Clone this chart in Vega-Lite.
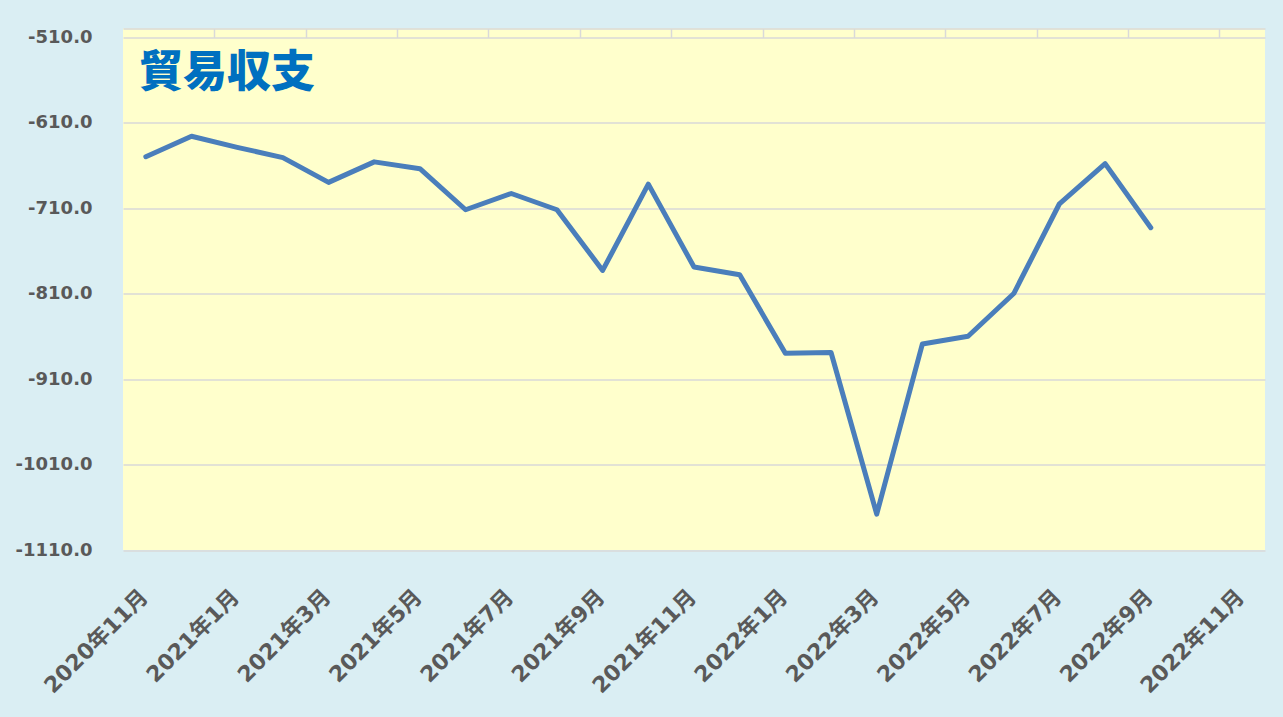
{
  "$schema": "https://vega.github.io/schema/vega-lite/v6.json",
  "autosize": {"type": "none"},
  "width": 1142,
  "height": 521.5,
  "padding": {"left": 123, "top": 28.5, "right": 18, "bottom": 167},
  "background": "#DAEEF3",
  "view": {"fill": "#FFFFCC", "stroke": null},
  "title": {
    "text": "貿易収支",
    "anchor": "start",
    "frame": "group",
    "orient": "top",
    "baseline": "top",
    "dx": 16,
    "dy": 68,
    "offset": 0,
    "font": "Noto Sans CJK JP",
    "fontSize": 44,
    "fontWeight": 900,
    "color": "#0070C0"
  },
  "data": {
    "values": [
      {"month": "2020年11月", "value": -650},
      {"month": "2020年12月", "value": -626},
      {"month": "2021年1月", "value": -639},
      {"month": "2021年2月", "value": -651},
      {"month": "2021年3月", "value": -680},
      {"month": "2021年4月", "value": -656},
      {"month": "2021年5月", "value": -664},
      {"month": "2021年6月", "value": -712},
      {"month": "2021年7月", "value": -693},
      {"month": "2021年8月", "value": -712},
      {"month": "2021年9月", "value": -783},
      {"month": "2021年10月", "value": -682},
      {"month": "2021年11月", "value": -779},
      {"month": "2021年12月", "value": -788},
      {"month": "2022年1月", "value": -880},
      {"month": "2022年2月", "value": -879},
      {"month": "2022年3月", "value": -1068},
      {"month": "2022年4月", "value": -869},
      {"month": "2022年5月", "value": -860},
      {"month": "2022年6月", "value": -810},
      {"month": "2022年7月", "value": -705},
      {"month": "2022年8月", "value": -658},
      {"month": "2022年9月", "value": -733}
    ]
  },
  "encoding": {
    "x": {
      "field": "month",
      "type": "ordinal",
      "sort": null,
      "scale": {
        "type": "point",
        "padding": 0.5,
        "domain": ["2020年11月","2020年12月","2021年1月","2021年2月","2021年3月","2021年4月","2021年5月","2021年6月","2021年7月","2021年8月","2021年9月","2021年10月","2021年11月","2021年12月","2022年1月","2022年2月","2022年3月","2022年4月","2022年5月","2022年6月","2022年7月","2022年8月","2022年9月","2022年10月","2022年11月"]
      }
    },
    "y": {
      "field": "value",
      "type": "quantitative",
      "scale": {"domain": [-1110, -500], "nice": false, "zero": false}
    }
  },
  "layer": [
    {
      "mark": {"type": "line", "color": "#4A7EBB", "strokeWidth": 5, "strokeJoin": "round", "strokeCap": "round"},
      "encoding": {
        "x": {
          "field": "month",
          "type": "ordinal",
          "title": null,
          "axis": {
            "orient": "bottom",
            "values": ["2020年11月","2021年1月","2021年3月","2021年5月","2021年7月","2021年9月","2021年11月","2022年1月","2022年3月","2022年5月","2022年7月","2022年9月","2022年11月"],
            "labelAngle": -45,
            "labelAlign": "right",
            "labelBaseline": "middle",
            "labelPadding": 43,
            "labelOffset": -2,
            "labelFont": "DejaVu Sans, Noto Sans CJK JP",
            "labelFontWeight": "bold",
            "labelFontSize": 22,
            "labelColor": "#595959",
            "labelOverlap": false,
            "labelFlush": false,
            "ticks": false,
            "domain": false,
            "grid": false
          }
        },
        "y": {
          "field": "value",
          "type": "quantitative",
          "title": null,
          "axis": {
            "values": [-1110, -1010, -910, -810, -710, -610, -510],
            "labelExpr": "'-' + format(abs(datum.value), '.1f')",
            "labelFont": "DejaVu Sans",
            "labelFontWeight": "bold",
            "labelFontSize": 18,
            "labelColor": "#595959",
            "labelPadding": 31,
            "ticks": false,
            "domain": false,
            "grid": true,
            "gridColor": "#D9D9D9",
            "gridWidth": 1.5
          }
        }
      }
    },
    {
      "mark": {"type": "line", "strokeOpacity": 0},
      "encoding": {
        "x": {
          "field": "month",
          "type": "ordinal",
          "title": null,
          "axis": {
            "orient": "top",
            "values": ["2021年1月","2021年3月","2021年5月","2021年7月","2021年9月","2021年11月","2022年1月","2022年3月","2022年5月","2022年7月","2022年9月","2022年11月"],
            "labels": false,
            "ticks": true,
            "tickSize": -9,
            "tickOffset": -22.84,
            "tickColor": "#D9D9D9",
            "tickWidth": 1.5,
            "domain": true,
            "domainColor": "#D9D9D9",
            "domainWidth": 1.5,
            "grid": false
          }
        }
      }
    }
  ],
  "resolve": {"axis": {"x": "independent"}}
}
